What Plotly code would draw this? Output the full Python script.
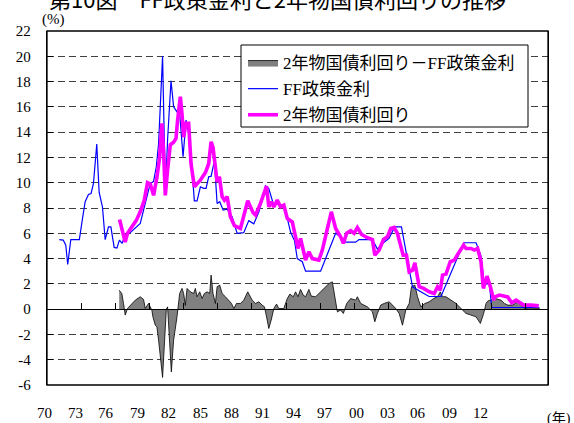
import plotly.graph_objects as go

# ---------------- data ----------------
# FF policy rate (%), decimal year
ff_year = [1971.08, 1971.43, 1971.65, 1971.82, 1972.09, 1972.84, 1973.14, 1973.35, 1973.64, 1973.87,
           1974.08, 1974.37, 1974.58, 1974.87, 1975.11, 1975.40, 1975.61, 1975.90, 1976.14, 1976.36,
           1976.60, 1976.87, 1977.16, 1977.90, 1978.19, 1978.48, 1978.78, 1979.07, 1979.36, 1979.60,
           1979.80, 1980.01, 1980.15, 1980.30, 1980.41, 1980.59, 1980.89, 1981.12, 1981.42, 1981.65,
           1981.95, 1982.21, 1982.44, 1982.74, 1982.94, 1983.18, 1983.47, 1983.76, 1983.97, 1984.20,
           1984.41, 1984.70, 1984.94, 1985.17, 1985.47, 1985.82, 1986.26, 1986.70, 1986.99, 1987.28,
           1987.72, 1988.16, 1988.60, 1988.90, 1989.19, 1989.48, 1989.87, 1990.36, 1990.75, 1991.10,
           1991.39, 1991.74, 1991.98, 1992.42, 1992.71, 1994.03, 1995.35, 1995.79, 1996.23, 1997.11,
           1997.40, 1998.58, 1999.02, 1999.46, 2000.04, 2000.55, 2001.13, 2002.10, 2002.98, 2003.56,
           2004.60, 2006.60, 2007.68, 2008.10, 2008.40, 2008.85, 2009.06, 2013.25]
ff_rate = [5.5, 5.46, 5.06, 3.53, 5.5, 5.5, 7.3, 8.5, 9.07, 9.15,
           9.94, 13.05, 9.23, 8.1, 5.5, 6.5, 6.5, 4.88, 4.83, 5.46,
           5.2, 5.93, 5.93, 6.5, 6.78, 7.83, 8.9, 9.94, 10.1, 11.26,
           13.1, 16.8, 20.0, 13.4, 9.41, 13.4, 18.06, 16.0, 15.6, 15.5,
           12.05, 14.95, 13.9, 11.0, 8.57, 8.57, 9.68, 9.55, 9.55, 10.47,
           10.5, 11.73, 8.36, 8.5, 7.83, 7.9, 7.3, 5.99, 6.0, 6.05,
           7.0, 6.75, 7.67, 8.6, 9.76, 9.54, 8.35, 8.3, 8.1, 7.2,
           6.1, 5.4, 4.0, 3.75, 3.0, 3.0, 6.0, 5.7, 5.3, 5.3,
           5.5, 5.5, 4.75, 5.2, 5.6, 6.5, 6.5, 1.77, 1.3, 1.0,
           1.0, 5.25, 5.25, 4.25, 2.0, 2.0, 0.13, 0.13]

# 2-year Treasury yield (%)
y2_year = [1976.37, 1976.72, 1976.87, 1977.07, 1977.45, 1977.83, 1978.19, 1978.54, 1978.83, 1979.07,
           1979.36, 1979.65, 1979.89, 1980.09, 1980.24, 1980.39, 1980.59, 1980.83, 1981.12, 1981.33,
           1981.47, 1981.71, 1981.85, 1982.00, 1982.21, 1982.44, 1982.65, 1982.94, 1983.47, 1983.91,
           1984.20, 1984.41, 1984.58, 1984.79, 1984.94, 1985.14, 1985.38, 1985.58, 1985.82, 1986.11,
           1986.46, 1986.99, 1987.28, 1987.63, 1988.10, 1988.31, 1988.75, 1989.28, 1989.48, 1989.69,
           1989.92, 1990.22, 1990.51, 1990.80, 1991.10, 1991.54, 1991.83, 1992.04, 1992.27, 1992.71,
           1993.00, 1993.30, 1993.88, 1994.18, 1994.56, 1994.97, 1995.35, 1995.79, 1996.03, 1996.32,
           1996.67, 1996.97, 1997.26, 1997.61, 1998.08, 1998.58, 1998.79, 1999.17, 1999.55, 1999.90,
           2000.19, 2000.49, 2000.78, 2001.28, 2001.57, 2001.81, 2002.10, 2002.31, 2002.69, 2003.07,
           2003.57, 2004.01, 2004.30, 2004.54, 2004.74, 2005.04, 2005.42, 2005.77, 2006.12, 2006.59,
           2006.80, 2007.24, 2007.53, 2007.82, 2008.12, 2008.32, 2008.64, 2008.94, 2009.23, 2009.35,
           2009.73, 2010.17, 2010.46, 2010.82, 2011.20, 2011.49, 2011.87, 2012.52, 2013.19]
y2_yield = [7.09, 6.0, 5.3, 6.0, 6.5, 7.0, 7.7, 8.6, 10.0, 9.9,
            9.0, 10.4, 12.0, 14.7, 12.5, 9.0, 11.0, 13.0, 13.2, 13.5,
            14.95, 16.8, 15.5, 13.6, 14.7, 14.7, 11.5, 9.68, 10.2, 10.8,
            11.5, 13.24, 12.8, 10.9, 10.07, 10.47, 8.9, 8.62, 8.9, 7.3,
            6.6, 6.38, 7.3, 8.57, 7.62, 7.44, 8.36, 9.73, 8.09, 8.49,
            8.09, 8.62, 8.09, 8.23, 7.17, 6.9, 5.72, 4.8, 5.59, 3.88,
            4.54, 4.0, 3.88, 4.67, 6.12, 7.7, 6.38, 5.72, 5.2, 6.0,
            6.2, 6.0, 6.46, 5.93, 5.67, 5.51, 4.27, 4.67, 5.51, 5.72,
            6.38, 6.46, 5.98, 4.27, 4.27, 2.95, 3.08, 3.66, 1.77, 1.64,
            1.37, 1.24, 1.77, 1.5, 2.69, 2.77, 3.75, 3.88, 4.4, 5.06,
            4.8, 4.8, 4.67, 4.8, 3.75, 1.64, 2.61, 1.77, 0.71, 0.97,
            1.11, 1.0, 0.97, 0.5, 0.71, 0.55, 0.32, 0.32, 0.26]

# spread: 2-year yield minus FF policy rate (% points)
sp_year = [1976.34, 1976.57, 1976.72, 1976.87, 1977.07, 1977.31, 1977.75, 1978.19, 1978.48, 1978.63,
           1978.92, 1979.21, 1979.30, 1979.51, 1979.65, 1979.80, 1979.95, 1980.15, 1980.33, 1980.48,
           1980.59, 1980.68, 1980.83, 1980.92, 1981.12, 1981.42, 1981.65, 1981.86, 1982.00, 1982.15,
           1982.30, 1982.59, 1982.88, 1983.03, 1983.18, 1983.41, 1983.62, 1983.82, 1984.06, 1984.29,
           1984.41, 1984.58, 1984.79, 1984.94, 1985.17, 1985.38, 1985.67, 1985.96, 1986.20, 1986.41,
           1986.64, 1986.99, 1987.28, 1987.63, 1988.02, 1988.31, 1988.60, 1988.90, 1989.10, 1989.34,
           1989.48, 1989.69, 1989.92, 1990.16, 1990.36, 1990.80, 1991.10, 1991.33, 1991.63, 1991.83,
           1992.04, 1992.27, 1992.50, 1992.71, 1993.00, 1993.21, 1993.59, 1994.03, 1994.47, 1994.77,
           1995.06, 1995.35, 1995.50, 1995.79, 1996.03, 1996.32, 1996.67, 1997.11, 1997.26, 1997.55,
           1998.14, 1998.58, 1998.79, 1999.02, 1999.31, 1999.61, 2000.05, 2000.34, 2000.63, 2000.93,
           2001.22, 2001.51, 2001.81, 2002.01, 2002.31, 2002.54, 2002.83, 2003.19, 2003.57, 2003.95,
           2004.30, 2004.54, 2004.74, 2005.04, 2005.48, 2005.92, 2006.21, 2006.50, 2006.80, 2007.24,
           2007.68, 2008.06, 2008.35, 2008.56, 2008.70, 2009.05, 2009.35, 2009.88, 2010.17, 2010.46,
           2010.90, 2011.34, 2011.64, 2011.93, 2012.52, 2013.25]
sp_value = [1.5, 1.24, 0.45, -0.47, 0.05, 0.3, 0.71, 0.98, 0.77, 0.05,
            0.45, -0.08, -0.6, -1.27, -1.4, -2.45, -3.77, -5.4, -2.45, 0.0,
            0.18, -1.45, -3.77, -4.96, -2.45, -0.6, 1.24, 1.64, 1.24, 0.3,
            1.64, 1.37, 1.24, 1.64, 0.98, 1.37, 0.84, 1.24, 1.37, 1.24,
            2.69, 1.24, 0.45, 1.77, 1.9, 1.24, 0.98, 0.71, 0.45, 0.05,
            0.45, 0.45, 0.71, 1.37, 0.71, 0.45, 0.58, 0.32, 0.18, -0.87,
            -1.53, -0.87, 0.05, 0.40, 0.05, 0.05, 0.84, 1.19, 0.98, 1.37,
            0.98, 1.56, 1.11, 0.98, 1.56, 1.03, 0.98, 1.37, 1.77, 2.03,
            2.16, 0.45, -0.21, -0.08, -0.34, 0.45, 0.84, 0.71, 0.98, 0.45,
            0.18, -0.21, -1.0, -0.34, 0.32, 0.45, 0.58, 0.32, 0.05, -0.34,
            -1.27, -0.08, 0.45, 1.77, 1.9, 0.98, 0.18, 0.45, 0.58, 0.84,
            0.98, 1.37, 0.98, 0.98, 0.71, 0.45, 0.18, -0.08, -0.34, -0.47,
            -0.61, -1.13, -0.34, 0.45, 0.63, 0.76, 0.84, 0.71, 0.45, 0.32,
            0.32, 0.58, 0.32, 0.05, 0.1, 0.05]

assert len(ff_year) == len(ff_rate)
assert len(y2_year) == len(y2_yield)
assert len(sp_year) == len(sp_value)

y_ticks = list(range(-6, 23, 2))
y_ticktext = [str(v) for v in y_ticks]
x_ticktext = ["70", "73", "76", "79", "82", "85", "88", "91", "94", "97", "00", "03", "06", "09", "12"]

title_text = "第10図　FF政策金利と2年物国債利回りの推移"
name_spread = "2年物国債利回り－FF政策金利"
name_ff = "FF政策金利"
name_2y = "2年物国債利回り"

SERIF = "Liberation Serif, Noto Sans CJK JP, serif"
SANS = "Noto Sans CJK JP, sans-serif"

# ---------------- layout geometry (pixels) ----------------
W, H = 574, 423
ML, MR, MT, MB = 47, 26, 31, 38
pw = W - ML - MR
ph = H - MT - MB


def px_x(p):
    return (p - ML) / pw


def px_y(p):
    return (MT + ph - p) / ph


# year labels in the reference sit on their own evenly spaced row
label_px0, label_step = 44.0, 31.2

fig = go.Figure()
fig.add_trace(go.Scatter(x=sp_year, y=sp_value, mode="lines", fill="tozeroy",
                         fillcolor="#808080", line=dict(color="#000000", width=0.8),
                         name=name_spread, legendgroup="g1"))
fig.add_trace(go.Scatter(x=ff_year, y=ff_rate, mode="lines",
                         line=dict(color="#0000ff", width=1.2), name=name_ff, legendgroup="g2"))
fig.add_trace(go.Scatter(x=y2_year, y=y2_yield, mode="lines",
                         line=dict(color="#ff00ff", width=3.6), name=name_2y, legendgroup="g3"))

annotations = []
for k, t in enumerate(x_ticktext):
    annotations.append(dict(text=t, xref="paper", yref="paper",
                            x=px_x(label_px0 + k * label_step), y=px_y(413),
                            showarrow=False, xanchor="center", yanchor="middle",
                            font=dict(family=SERIF, size=15, color="black")))
annotations += [
    dict(text="(%)", xref="paper", yref="paper", x=px_x(53), y=px_y(19),
         showarrow=False, font=dict(family=SERIF, size=15, color="black"),
         xanchor="center", yanchor="middle"),
    dict(text="(年)", xref="paper", yref="paper", x=px_x(559), y=px_y(419),
         showarrow=False, font=dict(family=SERIF, size=14, color="black"),
         xanchor="center", yanchor="middle"),
    dict(text=title_text, xref="paper", yref="paper", x=px_x(47), y=px_y(-2),
         showarrow=False, font=dict(family=SANS, size=22, color="black"),
         xanchor="left", yanchor="middle"),
]

fig.update_layout(
    width=W, height=H,
    margin=dict(l=ML, r=MR, t=MT, b=MB, pad=0),
    paper_bgcolor="white", plot_bgcolor="white",
    showlegend=True,
    xaxis=dict(range=[1970, 2014], anchor="free", position=6 / 28, automargin=False,
               showline=True, linecolor="black", linewidth=1.3,
               ticks="inside", tick0=1970, dtick=3, ticklen=6, tickwidth=1, tickcolor="black",
               showticklabels=False, showgrid=False, zeroline=False),
    yaxis=dict(range=[-6, 22], automargin=False,
               tickmode="array", tickvals=y_ticks, ticktext=y_ticktext,
               ticks="inside", ticklen=6, tickwidth=1, tickcolor="black",
               showline=True, mirror=True, linecolor="black", linewidth=1.3,
               showgrid=True, gridcolor="#404040", gridwidth=1, griddash="7px,4px",
               zeroline=False,
               tickfont=dict(family=SERIF, size=15, color="black"),
               ticklabelstandoff=12),
    legend=dict(x=px_x(243), y=px_y(45), xanchor="left", yanchor="top",
                bgcolor="rgba(0,0,0,0)", borderwidth=0,
                font=dict(family=SERIF, size=17, color="black"),
                tracegroupgap=1),
    shapes=[
        dict(type="rect", xref="x domain", yref="y domain", x0=0, x1=1, y0=0, y1=1,
             line=dict(color="black", width=1.3), fillcolor="rgba(0,0,0,0)", layer="above"),
        # legend frame
        dict(type="rect", xref="paper", yref="paper", x0=px_x(241), x1=px_x(528),
             y0=px_y(127), y1=px_y(45), line=dict(color="black", width=1),
             fillcolor="white", layer="above"),
    ],
    annotations=annotations,
)

fig.write_html("out.html", config={"displayModeBar": False},
               post_script="document.body.style.margin='0';")
